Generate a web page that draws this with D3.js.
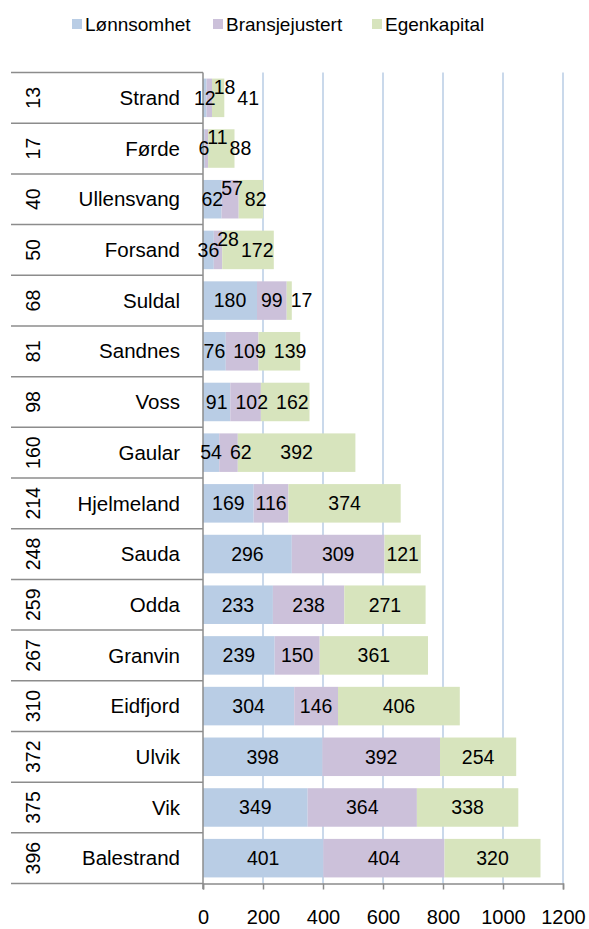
<!DOCTYPE html>
<html>
<head>
<meta charset="utf-8">
<script src="https://cdn.jsdelivr.net/npm/d3@7"></script>
<style>
  body { margin: 0; background: #fff; }
  svg { display: block; font-family: "Liberation Sans", Arial, sans-serif; }
</style>
</head>
<body>
<svg id="chart" width="589" height="929"></svg>
<script>
// data
var ranks = [13, 17, 40, 50, 68, 81, 98, 160, 214, 248, 259, 267, 310, 372, 375, 396];
var names = ["Strand", "Førde", "Ullensvang", "Forsand", "Suldal", "Sandnes", "Voss", "Gaular",
  "Hjelmeland", "Sauda", "Odda", "Granvin", "Eidfjord", "Ulvik", "Vik", "Balestrand"];
var lonnsomhet = [12, 6, 62, 36, 180, 76, 91, 54, 169, 296, 233, 239, 304, 398, 349, 401];
var bransje = [18, 11, 57, 28, 99, 109, 102, 62, 116, 309, 238, 150, 146, 392, 364, 404];
var egenkapital = [41, 88, 82, 172, 17, 139, 162, 392, 374, 121, 271, 361, 406, 254, 338, 320];
var seriesNames = ["Lønnsomhet", "Bransjejustert", "Egenkapital"];
var colors = ["#b9cde5", "#ccc1da", "#d7e4bd"];
var xTicks = [0, 200, 400, 600, 800, 1000, 1200];

var svg = d3.select("#chart");

var rows = names.map(function(n, i) {
  return { name: n, rank: ranks[i], vals: [lonnsomhet[i], bransje[i], egenkapital[i]] };
});

var x = d3.scaleLinear().domain([0, 1200]).range([203, 563]);
var y = d3.scaleBand().domain(names).range([72.5, 883.5]).paddingInner(0.24).paddingOuter(0.12);
var step = y.step();

// gridlines
svg.append("g").selectAll("line")
  .data(xTicks.slice(1))
  .enter().append("line")
  .attr("x1", function(d) { return x(d); }).attr("x2", function(d) { return x(d); })
  .attr("y1", 72.5).attr("y2", 883.5)
  .style("stroke", "#b9cde5").style("stroke-width", 1.5);

// bars
var stack = d3.stack().keys([0, 1, 2]).value(function(d, k) { return d.vals[k]; });
var layers = stack(rows);

svg.append("g").selectAll("g")
  .data(layers)
  .enter().append("g")
  .style("fill", function(d, i) { return colors[i]; })
  .selectAll("rect")
  .data(function(d) { return d; })
  .enter().append("rect")
  .attr("x", function(d) { return x(d[0]); })
  .attr("width", function(d) { return x(d[1]) - x(d[0]); })
  .attr("y", function(d) { return y(d.data.name); })
  .attr("height", y.bandwidth());

// left category table lines
var lineYs = names.map(function(n) { return y(n) - (step - y.bandwidth()) / 2; });
lineYs.push(883.5);
svg.append("g").selectAll("line")
  .data(lineYs)
  .enter().append("line")
  .attr("x1", 11).attr("x2", 203)
  .attr("y1", function(d) { return d; }).attr("y2", function(d) { return d; })
  .style("stroke", "#8c8c8c").style("stroke-width", 1.5);

// axes
svg.append("line").attr("x1", 203).attr("x2", 203).attr("y1", 72.5).attr("y2", 889)
  .style("stroke", "#8c8c8c").style("stroke-width", 1.5);
var xAxis = svg.append("g").attr("transform", "translate(0,883.5)")
  .call(d3.axisBottom(x).tickValues(xTicks).tickSize(6).tickPadding(20).tickFormat(d3.format("d")));
xAxis.select(".domain").style("stroke", "#8c8c8c").style("stroke-width", 1.5);
xAxis.selectAll(".tick line").style("stroke", "#8c8c8c").style("stroke-width", 1.5);
xAxis.selectAll("text").style("font-size", "20px").style("fill", "#000")
  .style("font-family", "Liberation Sans, Arial, sans-serif");

// category names and rank numbers
svg.append("g").selectAll("text")
  .data(rows)
  .enter().append("text")
  .attr("x", 180)
  .attr("y", function(d) { return y(d.name) + y.bandwidth() / 2; })
  .attr("dy", "0.35em")
  .attr("text-anchor", "end")
  .style("font-size", "20.5px")
  .text(function(d) { return d.name; });

svg.append("g").selectAll("text")
  .data(rows)
  .enter().append("text")
  .attr("transform", function(d) {
    return "translate(33," + (y(d.name) + y.bandwidth() / 2) + ") rotate(-90)";
  })
  .attr("dy", "0.35em")
  .attr("text-anchor", "middle")
  .style("font-size", "19.5px")
  .text(function(d) { return d.rank; });

// data labels, nudged when they collide (Excel-like)
var labelG = svg.append("g");
rows.forEach(function(r) {
  var cy = y(r.name) + y.bandwidth() / 2;
  var items = [];
  var acc = 0;
  r.vals.forEach(function(v) {
    var t = labelG.append("text")
      .attr("dy", "0.35em")
      .style("font-size", "19.5px")
      .text(v);
    var w = t.node().getComputedTextLength();
    items.push({ t: t, w: w, left: x(acc + v / 2) - w / 2 });
    acc += v;
  });
  var prevRight = -1e9, pad = 8;
  items.forEach(function(it, k) {
    var left = it.left, ty = cy, raised = false;
    if (left < prevRight + pad) {
      var overlap = prevRight + pad - left;
      var shifted = prevRight + pad;
      var next = items[k + 1];
      if (k == 1 && overlap > it.w * 0.3 && next && shifted + it.w + pad > next.left) {
        ty = cy - 11;
        left = Math.max(left, prevRight - 2);
        raised = true;
      } else {
        left = shifted;
      }
    }
    it.t.attr("x", left).attr("y", ty);
    prevRight = left + it.w;
    pad = raised ? 2 : 8;
  });
});

// legend
var legendX = [72, 213, 372];
var leg = svg.append("g").selectAll("g")
  .data(seriesNames)
  .enter().append("g")
  .attr("transform", function(d, i) { return "translate(" + legendX[i] + ",19)"; });
leg.append("rect").attr("width", 10).attr("height", 10)
  .style("fill", function(d, i) { return colors[i]; });
leg.append("text").attr("x", 13).attr("y", 5).attr("dy", "0.35em")
  .style("font-size", "19px")
  .text(function(d) { return d; });
</script>
</body>
</html>
